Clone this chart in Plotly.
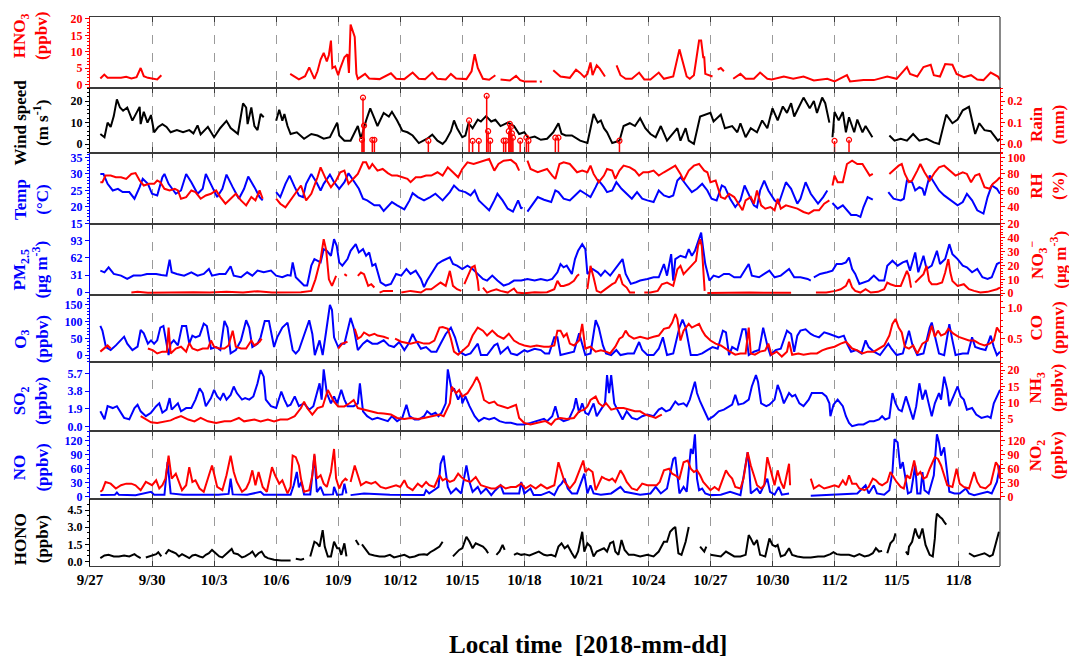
import pandas as pd
import plotly.graph_objects as go

START = pd.Timestamp("2018-09-27 00:00")
END = pd.Timestamp("2018-11-10 00:00")
tick_days = [0, 3, 6, 9, 12, 15, 18, 21, 24, 27, 30, 33, 36, 39, 42]
tick_labels = ["9/27", "9/30", "10/3", "10/6", "10/9", "10/12", "10/15", "10/18",
               "10/21", "10/24", "10/27", "10/30", "11/2", "11/5", "11/8"]

# Each series: (days since 2018-09-27 00:00 local time, value); None marks missing data
hno3 = [(0.5,1.8),(0.69,3.0),(0.85,2.0),(1.2,1.9),(1.5,2.0),(1.75,2.3),(2.0,1.8),(2.25,2.2),(2.45,5.0),(2.6,2.5),(2.8,2.0),(3.0,1.8),(3.25,1.5),(3.45,2.8),(3.5,None),
(9.68,3.2),(9.9,2.2),(10.1,1.5),(10.4,2.5),(10.6,5.2),(10.85,1.7),(11.0,4.0),(11.15,7.6),(11.3,9.6),(11.45,7.0),(11.55,9.0),(11.65,13.4),(11.72,5.0),(11.85,5.5),(12.0,2.8),(12.1,4.9),(12.3,8.3),(12.45,9.2),(12.52,3.5),(12.6,18.3),(12.8,14.5),(12.88,3.2),(12.95,1.7),(13.3,3.2),(13.5,1.8),(14.0,1.6),(14.55,3.4),(14.8,1.7),(15.2,1.6),(15.6,3.6),(15.9,1.7),(16.2,1.6),(16.55,3.6),(16.8,1.7),(17.2,1.5),(17.45,3.2),(17.7,1.8),(18.2,1.6),(18.45,4.0),(18.6,9.2),(18.75,5.0),(19.0,1.7),(19.3,1.4),(19.6,2.8),(19.65,None),(19.85,1.5),(20.3,1.2),(20.6,2.6),(20.8,1.3),(21.0,0.9),(21.6,0.9),(21.65,None),(21.75,0.8),(21.85,0.9),(21.9,None),
(22.4,4.3),(22.75,2.4),(23.2,2.0),(23.5,4.5),(23.7,3.5),(23.9,2.2),(24.05,3.2),(24.2,6.7),(24.3,2.8),(24.5,5.8),(24.65,4.8),(24.9,2.4),(24.95,None),(25.46,5.8),(25.65,2.8),(25.9,1.7),(26.2,1.7),(26.55,3.6),(26.8,1.5),(27.1,1.5),(27.5,3.6),(27.75,1.7),(28.2,2.4),(28.5,10.7),(28.85,2.4),(29.0,1.7),(29.2,2.8),(29.45,13.4),(29.55,13.4),(29.65,8.3),(29.7,8.3),(29.75,3.2),(29.9,2.8),(30.1,2.4),(30.15,None),(30.35,4.5),(30.5,5.0),(30.65,4.0),(30.7,None),
(31.1,1.7),(31.45,3.2),(31.7,1.7),(32.1,1.7),(32.4,3.6),(32.75,1.7),(32.97,1.5),(33.55,2.4),(34.0,1.7),(34.5,2.4),(35.0,1.2),(35.65,1.7),(36.0,0.9),(36.6,2.8),(36.75,0.9),(37.4,1.3),(37.9,1.3),(38.55,2.4),(39.0,1.7),(39.5,5.3),(39.65,3.2),(40.0,2.4),(40.3,5.3),(40.65,6.0),(40.8,2.8),(41.1,2.4),(41.35,6.2),(41.7,6.0),(41.9,3.2),(42.25,2.2),(42.6,2.8),(42.9,1.5),(43.2,1.3),(43.55,3.6),(43.9,2.4),(44.0,1.3)]

wind = [(0.5,4.7),(0.7,3.2),(0.85,10),(1.0,8),(1.15,13),(1.3,20.8),(1.45,17),(1.6,15.5),(1.8,17),(2.05,10.9),(2.4,17.3),(2.45,9.3),(2.6,15),(2.78,10),(2.95,13.5),(3.1,5.5),(3.3,8),(3.5,9.3),(3.7,8),(3.9,5.5),(4.2,6.5),(4.5,5.5),(4.8,6.5),(5.0,5),(5.2,8.7),(5.35,4.5),(5.7,8),(6.0,3.2),(6.3,7.5),(6.6,10.8),(6.8,7.5),(7.15,4.8),(7.4,18.9),(7.55,17),(7.62,9.3),(7.8,17),(7.95,8.4),(8.1,6.5),(8.25,14),(8.4,12.5),(8.45,None),
(9.0,10.9),(9.15,16),(9.3,10.9),(9.4,14),(9.55,8.4),(9.7,4.7),(10.0,5.5),(10.35,2.5),(10.7,4.7),(11.0,4),(11.3,2.5),(11.6,3.2),(11.95,10),(12.05,4),(12.3,1.6),(12.6,1.6),(12.95,8.4),(13.1,2.5),(13.35,11),(13.55,16.6),(13.75,12),(13.9,8.4),(14.2,14.5),(14.45,12.8),(14.6,15),(14.85,11),(15.1,6.2),(15.35,5.5),(15.6,4),(15.9,0.5),(16.3,2.5),(16.55,4.4),(16.8,1.6),(17.05,0.1),(17.2,1.6),(17.45,6),(17.6,11),(17.75,7.4),(18.0,3.2),(18.15,4),(18.3,9.7),(18.5,7.4),(18.75,11.4),(18.9,10.5),(19.15,13),(19.4,10.5),(19.6,11.3),(19.85,8.4),(20.2,10),(20.5,8.4),(20.75,4.7),(21.0,5.5),(21.2,2.8),(21.5,3.5),(21.8,2.0),(22.1,2.5),(22.4,5.5),(22.65,9.7),(22.8,4.8),(23.0,4),(23.3,4),(23.7,1.6),(24.05,0.5),(24.35,14),(24.55,10),(24.7,11),(24.85,7.4),(25.0,5.5),(25.25,0.5),(25.6,1.6),(25.8,8.4),(26.1,9.7),(26.35,8.4),(26.6,12),(26.85,7.4),(27.1,4.7),(27.35,3.2),(27.6,8.4),(27.9,1.6),(28.15,4.7),(28.4,7.4),(28.55,1.6),(28.8,7.4),(28.95,1.6),(29.2,0.1),(29.5,12.8),(29.75,13.7),(30.0,14.5),(30.15,10.5),(30.5,13.7),(30.7,7.4),(31.05,8.4),(31.3,5.5),(31.45,9.7),(31.7,3.2),(31.95,7.4),(32.25,5.5),(32.5,11),(32.75,7.4),(33.0,16.6),(33.25,11),(33.5,17.5),(33.7,14.5),(33.9,19),(34.05,12.8),(34.3,17.5),(34.5,21.6),(34.8,16.6),(35.0,20),(35.15,14.5),(35.4,21.6),(35.55,19),(35.75,10),(35.8,None),
(35.9,3.2),(36.0,14.9),(36.2,11),(36.4,14.9),(36.55,5.5),(36.7,12.5),(36.95,5.5),(37.1,11.4),(37.35,5.5),(37.5,8.4),(37.83,3.2),(37.9,None),
(38.65,4),(38.9,1.6),(39.2,2.5),(39.5,1.6),(39.8,4.7),(40.1,1.6),(40.45,2.5),(40.8,0.8),(41.05,0.1),(41.4,13.7),(41.7,9.7),(41.95,11.4),(42.2,15.7),(42.5,17.3),(42.65,11),(42.8,4.7),(43.0,9.7),(43.25,6.5),(43.55,6),(43.9,1.6),(44.0,2.5)]

rain = [(13.15,0.02),(13.2,0.216),(13.25,0.086),(13.65,0.02),(13.75,0.02),(16.36,0.016),(18.33,0.11),(18.5,0.015),(18.8,0.015),(19.18,0.224),(19.25,0.06),(19.35,0.016),(20.0,0.016),(20.1,0.016),(20.25,0.06),(20.3,0.094),(20.35,0.08),(20.4,0.05),(20.45,0.03),(20.8,0.016),(21.1,0.03),(21.2,0.016),(22.5,0.03),(22.65,0.03),(25.6,0.016),(36.0,0.015),(36.7,0.02)]

temp = [(0.5,30.0),(0.65,30.0),(0.85,27),(1.1,25),(1.35,25.5),(1.58,24.5),(1.9,24.5),(2.15,22.5),(2.4,26),(2.55,28.5),(2.8,27),(3.0,24),(3.25,23.5),(3.5,29),(3.6,30),(3.8,27),(4.15,24),(4.4,25),(4.65,30),(4.9,27.5),(5.2,24),(5.45,25.5),(5.6,30),(5.85,27),(6.15,23),(6.4,25.5),(6.6,29.8),(6.9,26),(7.2,22.5),(7.45,25.5),(7.65,29.2),(7.95,26),(8.2,23),(8.35,22),(8.4,None),
(9.0,24.5),(9.2,23),(9.45,27),(9.65,29.5),(9.9,26),(10.1,23.5),(10.3,23),(10.45,27),(10.7,30),(10.95,27.5),(11.15,25),(11.3,27),(11.6,29.8),(11.8,27.5),(12.05,25.5),(12.3,27.5),(12.5,30.2),(12.75,28),(13.0,25.5),(13.2,22.5),(13.4,22),(13.75,20.5),(14.0,20.5),(14.2,18.8),(14.45,20.5),(14.6,21.5),(14.85,20.5),(15.2,19.3),(15.45,22),(15.6,24.2),(15.85,23),(16.15,22),(16.45,23),(16.7,24),(17.05,22),(17.4,24.5),(17.6,26.5),(17.85,25),(18.15,24.5),(18.4,23.5),(18.6,25),(18.8,22),(19.05,20.5),(19.3,19),(19.55,22),(19.7,24),(19.95,22),(20.2,19.5),(20.45,18.6),(20.7,22),(20.85,19.5),(20.9,20),(20.95,None),
(21.15,18.6),(21.4,21),(21.65,23),(21.95,22.2),(22.3,21.5),(22.5,25),(22.65,24.5),(22.9,22.5),(23.2,22),(23.45,23.5),(23.7,25),(23.95,24),(24.2,23),(24.45,26),(24.6,28),(24.85,26),(25.0,24.5),(25.25,25),(25.45,27.5),(25.7,25.5),(25.95,24),(26.2,22.5),(26.45,24.5),(26.7,22.5),(26.95,22),(27.25,21.5),(27.5,25),(27.75,23.5),(28.0,23),(28.2,23.5),(28.4,28),(28.55,29),(28.85,26.5),(29.1,24.5),(29.35,25.5),(29.6,27),(29.85,25),(30.05,22.5),(30.3,22),(30.55,26.5),(30.7,26),(30.95,22.5),(31.2,20),(31.45,22),(31.65,26.5),(31.85,24),(32.1,20.5),(32.25,19.9),(32.4,25),(32.6,28),(32.8,25),(33.1,22),(33.3,21),(33.65,27.5),(33.9,25.5),(34.2,21),(34.35,22.5),(34.6,27.5),(34.85,24),(35.2,21),(35.45,23),(35.65,25),(35.7,None),
(35.9,21.2),(36.15,19.5),(36.4,20.5),(36.55,19.5),(36.8,17.6),(37.05,17.6),(37.25,17),(37.4,20),(37.6,23),(37.85,22.2),(37.9,None),
(38.6,24.5),(38.85,22.5),(39.2,22),(39.35,22.5),(39.5,28),(39.75,27.5),(39.9,25),(40.1,26),(40.25,25.5),(40.35,23.5),(40.6,29.5),(40.8,27.5),(41.05,25),(41.3,23.5),(41.6,22),(41.95,20.5),(42.2,21.5),(42.4,24),(42.65,22),(42.9,19),(43.2,18),(43.4,23),(43.6,26.5),(43.85,25.5),(44.0,24)]

rh = [(0.5,70),(0.6,70),(0.75,78),(1.0,78),(1.25,76),(1.5,76),(1.75,74),(2.0,80),(2.2,81),(2.4,72),(2.6,66),(2.85,68),(3.1,68),(3.25,72),(3.4,70),(3.6,62),(3.85,60),(4.1,62),(4.25,60),(4.4,50),(4.65,52),(4.9,60),(5.1,58),(5.35,50),(5.6,54),(5.85,56),(6.1,60),(6.3,52),(6.55,44),(6.8,50),(7.05,56),(7.3,48),(7.55,42),(7.8,52),(8.0,48),(8.2,60),(8.35,50),(8.4,None),
(9.0,50),(9.2,44),(9.45,39.5),(9.7,48),(9.95,56),(10.2,66),(10.45,48),(10.7,56),(11.0,76),(11.15,88),(11.4,74),(11.65,64),(11.9,72),(12.1,82),(12.3,84),(12.5,68),(12.8,76),(12.95,80),(13.2,94),(13.35,94),(13.5,86),(13.65,92),(13.9,84),(14.15,86),(14.4,81),(14.6,78),(14.85,78),(15.1,76),(15.35,74),(15.5,70),(15.75,76),(16.0,76),(16.25,78),(16.5,78),(16.8,82),(17.05,78),(17.3,88),(17.55,82),(17.8,76),(18.0,86),(18.25,94),(18.55,92),(18.8,94),(19.05,96),(19.3,98),(19.55,84),(19.75,92),(20.0,96),(20.35,97),(20.6,92),(20.75,84),(20.8,None),
(21.15,96),(21.3,86),(21.65,82),(21.95,85),(22.1,86),(22.35,78),(22.5,74),(22.7,92),(22.9,94),(23.2,92),(23.55,82),(23.8,84),(24.05,82),(24.2,90),(24.35,80),(24.6,70),(24.85,78),(25.0,86),(25.25,84),(25.4,74),(25.6,84),(25.8,90),(26.1,88),(26.35,84),(26.55,78),(26.75,82),(27.0,82),(27.25,84),(27.5,78),(27.75,82),(28.05,86),(28.3,90),(28.55,80),(28.7,72),(28.95,84),(29.2,90),(29.45,92),(29.7,84),(29.85,82),(30.0,70),(30.25,72),(30.5,52),(30.7,50),(30.9,56),(31.15,52),(31.4,42),(31.55,36),(31.7,48),(31.95,52),(32.1,44),(32.25,60),(32.45,42),(32.65,38),(32.9,40),(33.1,36),(33.25,50),(33.4,38),(33.65,42),(33.9,40),(34.2,38),(34.5,34),(34.75,32),(35.0,36),(35.25,36),(35.5,44),(35.75,48),(35.8,None),
(35.9,66),(36.0,78),(36.15,70),(36.4,70),(36.6,92),(36.85,96),(37.1,92),(37.35,92),(37.5,86),(37.7,78),(37.85,80),(37.9,None),
(38.65,80),(38.9,86),(39.1,90),(39.25,92),(39.4,80),(39.6,70),(39.75,72),(40.0,84),(40.15,92),(40.35,82),(40.6,72),(40.85,82),(41.05,88),(41.3,90),(41.6,84),(41.85,78),(42.2,82),(42.4,80),(42.6,70),(42.8,78),(43.0,80),(43.25,64),(43.5,62),(43.65,68),(43.85,72),(44.0,76)]

pm25 = [(0.5,39),(0.7,36),(0.9,45),(1.15,33),(1.5,30),(1.8,24),(2.1,30),(2.45,30),(2.75,33),(3.2,33),(3.45,31),(3.7,30),(3.85,59),(3.95,36),(4.2,33),(4.55,30),(4.9,36),(5.2,30),(5.5,33),(5.75,42),(5.9,30),(6.25,33),(6.55,33),(6.8,47),(6.95,30),(7.3,27),(7.6,36),(7.85,30),(8.1,39),(8.4,36),(8.75,39),(9.0,30),(9.3,27),(9.55,31),(9.7,30),(9.8,54),(9.95,27),(10.1,21),(10.35,12),(10.5,12),(10.7,48),(10.85,60),(11.0,57),(11.15,54),(11.3,78),(11.45,75),(11.65,66),(11.8,96),(11.93,84),(12.05,54),(12.2,48),(12.45,60),(12.6,75),(12.85,87),(13.0,72),(13.2,78),(13.35,66),(13.5,72),(13.65,48),(13.8,51),(14.05,18),(14.3,12),(14.55,15),(14.8,33),(15.05,30),(15.3,42),(15.5,33),(15.75,39),(16.0,24),(16.15,9),(16.3,21),(16.55,36),(16.8,51),(17.05,57),(17.4,63),(17.55,51),(17.75,48),(18.0,42),(18.25,48),(18.5,42),(18.75,33),(19.0,24),(19.2,21),(19.45,30),(19.7,21),(20.0,12),(20.25,15),(20.5,21),(20.85,21),(21.15,24),(21.5,21),(21.8,24),(22.1,21),(22.35,24),(22.6,36),(22.75,51),(22.9,45),(23.05,48),(23.3,33),(23.45,60),(23.6,75),(23.8,87),(23.95,78),(24.05,33),(24.3,42),(24.55,36),(24.7,30),(24.9,39),(25.15,30),(25.4,42),(25.75,60),(25.9,33),(26.15,15),(26.4,18),(26.6,21),(26.95,24),(27.25,27),(27.5,27),(27.75,51),(27.9,30),(28.1,69),(28.2,21),(28.3,60),(28.55,66),(28.8,63),(28.95,78),(29.1,66),(29.25,75),(29.45,99),(29.55,108),(29.65,78),(29.75,51),(29.95,21),(30.15,30),(30.4,27),(30.65,33),(30.9,33),(31.15,27),(31.45,27),(31.85,51),(32.0,30),(32.35,27),(32.6,33),(32.85,39),(33.1,27),(33.4,30),(33.8,42),(34.05,27),(34.35,27),(34.7,24),(34.85,21),(34.9,None),
(35.0,27),(35.3,33),(35.65,36),(35.9,39),(36.1,51),(36.35,51),(36.55,54),(36.7,63),(36.85,42),(37.0,33),(37.2,15),(37.45,18),(37.65,21),(37.9,30),(38.15,21),(38.4,21),(38.55,48),(38.8,57),(39.05,48),(39.3,54),(39.5,57),(39.65,39),(39.9,72),(40.05,36),(40.3,66),(40.45,42),(40.7,48),(40.95,75),(41.1,51),(41.35,60),(41.55,87),(41.7,69),(41.95,60),(42.2,48),(42.4,45),(42.65,36),(42.9,42),(43.15,27),(43.4,24),(43.6,27),(43.85,51),(44.0,54)]

no3 = [(2.0,0.5),(2.3,1.0),(2.8,0.3),(3.5,0.5),(4.2,0.3),(5.0,0.8),(5.8,0.5),(6.6,1.0),(7.4,0.5),(8.1,1.5),(8.8,0.5),(9.5,0.5),(10.2,0.8),(10.7,1.7),(10.9,10),(11.15,24.5),(11.3,38.9),(11.42,31),(11.55,10),(11.7,5.3),(11.9,12.5),(11.95,None),(12.3,13.7),(12.42,12.5),(12.45,None),(12.95,12.5),(13.1,14.9),(13.25,13.7),(13.45,5.3),(13.6,6.5),(13.75,4.1),(13.8,None),(14.0,0.5),(14.2,1.7),(14.4,1.7),(14.65,1.7),(14.7,None),
(15.05,0.5),(15.5,1.7),(16.0,0.5),(16.25,2.9),(16.5,2.9),(16.75,5.3),(16.95,7.7),(17.2,5.3),(17.4,16.1),(17.55,5.3),(17.75,2.9),(17.95,1.7),(18.0,None),(18.1,6.5),(18.25,11.3),(18.45,18.5),(18.6,19.7),(18.75,8.9),(18.8,1.7),(18.9,None),(19.0,4.1),(19.2,0.5),(19.4,1.7),(19.65,2.9),(19.85,1.7),(20.2,0.5),(20.5,3.4),(20.65,0.5),(21.0,0.0),(21.5,0.8),(21.8,0.5),(22.1,0.8),(22.45,2.9),(22.6,8.9),(22.75,5.3),(22.9,5.3),(23.15,6.5),(23.4,8.9),(23.55,12.5),(23.65,13.7),(23.7,None),
(24.05,2.9),(24.2,19.7),(24.35,11.3),(24.5,1.7),(24.7,0.5),(25.0,4.1),(25.25,6.5),(25.4,7.7),(25.6,13.7),(25.75,6.5),(25.95,4.1),(26.1,0.5),(26.35,0.5),(26.4,None),(26.8,0.5),(27.1,0.5),(27.45,1.7),(27.65,6.5),(27.9,7.7),(28.05,6.5),(28.2,5.3),(28.4,17.3),(28.55,19.7),(28.7,13.7),(28.85,16.1),(29.1,19.7),(29.3,23.3),(29.4,34),(29.5,38.9),(29.58,34),(29.68,5.3),(29.72,1.7),(29.75,None),
(29.85,0.2),(30.5,0.4),(31.2,0.2),(31.9,0.5),(32.6,0.3),(33.3,0.4),(33.9,0.3),(33.95,None),(35.1,0.5),(35.6,0.5),(36.05,1.7),(36.3,2.9),(36.55,5.3),(36.7,10.1),(36.85,4.1),(37.0,1.7),(37.25,0.5),(37.5,2.9),(37.75,0.5),(38.1,1.0),(38.4,2.9),(38.55,7.7),(38.7,6.5),(38.95,5.3),(39.2,5.3),(39.35,10.1),(39.5,16.1),(39.6,12.5),(39.7,4.1),(39.75,None),(39.9,7.7),(40.15,11.3),(40.3,13.7),(40.45,19.7),(40.57,8.9),(40.7,6.5),(40.95,6.5),(41.2,7.7),(41.35,14.9),(41.5,24.5),(41.6,14.9),(41.7,8.9),(41.95,5.3),(42.25,6.5),(42.5,2.9),(42.75,1.7),(43.05,0.5),(43.4,1.0),(43.6,1.7),(43.85,2.9),(44.0,4.1)]

o3 = [(0.5,87),(0.6,73),(0.77,24),(1.0,15),(1.25,29),(1.5,44),(1.65,55),(1.8,34),(2.05,15),(2.3,25),(2.45,75),(2.6,65),(2.8,34),(2.95,44),(3.1,34),(3.25,44),(3.4,82),(3.55,87),(3.65,53),(3.8,0),(3.9,34),(4.05,44),(4.25,29),(4.45,87),(4.65,87),(4.8,34),(4.95,58),(5.1,53),(5.3,58),(5.5,94),(5.65,87),(5.85,19),(6.1,24),(6.3,15),(6.5,102),(6.65,82),(6.8,5),(7.05,15),(7.3,44),(7.55,104),(7.7,82),(7.85,24),(8.1,34),(8.25,53),(8.45,102),(8.65,102),(8.9,24),(9.05,53),(9.3,82),(9.55,97),(9.8,15),(9.95,5),(10.1,15),(10.35,63),(10.6,104),(10.75,63),(10.87,0),(11.1,44),(11.25,0),(11.4,63),(11.6,150),(11.7,135),(11.8,53),(12.0,24),(12.15,34),(12.3,34),(12.45,73),(12.6,111),(12.75,82),(12.95,15),(13.2,34),(13.4,44),(13.65,34),(13.9,34),(14.2,44),(14.45,29),(14.7,24),(14.95,39),(15.2,15),(15.4,34),(15.6,63),(15.75,44),(16.0,19),(16.25,24),(16.5,10),(16.75,10),(16.95,34),(17.2,63),(17.45,82),(17.65,53),(17.85,10),(18.15,0),(18.4,5),(18.75,34),(18.9,0),(19.2,0),(19.55,29),(19.7,34),(19.85,5),(20.2,24),(20.35,5),(20.65,0),(21.0,15),(21.15,10),(21.5,19),(21.8,15),(22.0,5),(22.2,5),(22.45,53),(22.6,53),(22.75,0),(23.1,5),(23.4,10),(23.65,65),(23.8,34),(23.95,0),(24.2,5),(24.45,104),(24.6,82),(24.8,29),(24.95,5),(25.2,0),(25.45,15),(25.65,0),(26.0,5),(26.3,5),(26.55,39),(26.7,15),(26.95,0),(27.25,0),(27.5,19),(27.7,53),(27.9,0),(28.2,5),(28.5,82),(28.65,106),(28.8,82),(29.05,0),(29.35,0),(29.6,5),(29.85,15),(30.1,24),(30.35,19),(30.6,73),(30.75,68),(30.9,0),(31.05,24),(31.3,15),(31.55,77),(31.7,77),(31.85,0),(32.1,10),(32.35,15),(32.55,82),(32.75,29),(32.9,0),(33.15,15),(33.4,19),(33.7,73),(33.9,63),(34.05,10),(34.2,58),(34.35,73),(34.6,77),(34.85,63),(35.0,58),(35.25,53),(35.5,68),(35.75,63),(35.97,58),(36.2,53),(36.45,58),(36.6,34),(36.8,10),(37.05,15),(37.3,5),(37.5,44),(37.65,24),(37.9,10),(38.2,0),(38.6,34),(38.75,19),(39.0,0),(39.3,5),(39.6,73),(39.75,34),(40.0,0),(40.3,5),(40.6,82),(40.7,97),(40.85,53),(41.05,5),(41.3,0),(41.55,92),(41.7,44),(41.85,0),(42.2,5),(42.45,5),(42.65,53),(42.8,24),(43.05,19),(43.3,15),(43.55,58),(43.7,24),(43.85,0),(44.0,10)]

co = [(0.5,0.29),(0.7,0.34),(0.85,0.39),(1.0,0.34),(1.05,None),(2.8,0.34),(3.05,0.31),(3.25,0.26),(3.5,0.29),(3.72,0.29),(3.8,0.68),(3.9,0.26),(4.15,0.34),(4.4,0.37),(4.65,0.29),(4.8,0.43),(4.95,0.34),(5.2,0.31),(5.45,0.34),(5.7,0.34),(5.85,0.47),(6.0,0.37),(6.25,0.34),(6.5,0.34),(6.7,0.39),(6.9,0.63),(7.05,0.37),(7.3,0.34),(7.55,0.34),(7.8,0.47),(7.95,0.39),(8.2,0.45),(8.3,0.50),(8.35,None),
(12.0,0.34),(12.2,0.42),(12.45,0.45),(12.5,None),(12.8,0.66),(12.95,0.50),(13.1,0.53),(13.25,0.6),(13.5,0.55),(13.75,0.58),(13.9,0.55),(14.2,0.53),(14.45,0.5),(14.5,None),(14.75,0.5),(15.05,0.45),(15.5,0.42),(15.85,0.45),(16.15,0.42),(16.4,0.42),(16.65,0.47),(16.9,0.68),(17.05,0.69),(17.3,0.66),(17.45,0.5),(17.6,0.29),(17.8,0.24),(17.95,0.29),(18.3,0.39),(18.5,0.55),(18.75,0.68),(19.0,0.63),(19.2,0.55),(19.45,0.63),(19.7,0.55),(20.0,0.5),(20.25,0.58),(20.5,0.47),(20.75,0.42),(21.0,0.39),(21.3,0.37),(21.6,0.39),(21.95,0.37),(22.2,0.37),(22.45,0.39),(22.6,0.63),(22.75,0.63),(22.9,0.53),(23.05,0.58),(23.2,0.42),(23.4,0.39),(23.65,0.47),(23.8,0.74),(23.95,0.34),(24.2,0.37),(24.45,0.29),(24.7,0.31),(24.95,0.29),(25.15,0.26),(25.4,0.37),(25.6,0.50),(25.75,0.53),(25.9,0.63),(26.05,0.55),(26.3,0.50),(26.6,0.53),(26.95,0.50),(27.25,0.53),(27.5,0.55),(27.75,0.66),(28.0,0.68),(28.15,0.76),(28.3,0.9),(28.4,0.82),(28.55,0.47),(28.7,0.63),(28.95,0.74),(29.1,0.68),(29.25,0.71),(29.45,0.74),(29.6,0.63),(29.75,0.55),(30.0,0.47),(30.25,0.42),(30.5,0.39),(30.7,0.34),(30.95,0.29),(31.2,0.24),(31.45,0.26),(31.7,0.26),(31.85,0.68),(31.95,0.26),(32.15,0.24),(32.4,0.29),(32.65,0.31),(32.8,0.42),(32.95,0.24),(33.2,0.29),(33.45,0.21),(33.7,0.29),(33.8,0.45),(33.95,0.24),(34.25,0.26),(34.5,0.24),(34.85,0.26),(35.15,0.26),(35.4,0.31),(35.65,0.34),(36.0,0.37),(36.3,0.42),(36.55,0.45),(36.85,0.34),(37.1,0.31),(37.35,0.26),(37.6,0.29),(37.9,0.29),(38.15,0.34),(38.4,0.39),(38.65,0.55),(38.8,0.74),(38.95,0.82),(39.1,0.68),(39.25,0.6),(39.4,0.37),(39.6,0.34),(39.8,0.39),(40.0,0.26),(40.25,0.42),(40.5,0.47),(40.7,0.71),(40.85,0.53),(41.0,0.63),(41.15,0.55),(41.35,0.58),(41.5,0.66),(41.75,0.58),(42.0,0.53),(42.25,0.5),(42.5,0.47),(42.75,0.47),(43.0,0.42),(43.25,0.39),(43.5,0.42),(43.7,0.47),(43.85,0.68),(44.0,0.6)]

so2 = [(0.5,1.65),(0.7,0.8),(0.85,2.2),(1.1,2.0),(1.3,2.2),(1.45,1.65),(1.65,0.95),(1.9,0.8),(2.15,2.0),(2.3,2.35),(2.45,1.65),(2.7,1.13),(2.95,1.5),(3.2,2.2),(3.35,2.5),(3.5,1.5),(3.7,1.83),(3.85,3.06),(3.95,1.83),(4.25,2.5),(4.4,1.65),(4.65,2.0),(4.9,2.0),(5.1,2.9),(5.3,4.1),(5.45,3.6),(5.6,2.2),(5.85,3.06),(6.0,3.94),(6.15,3.24),(6.3,2.9),(6.45,3.6),(6.6,2.9),(6.8,3.4),(6.95,4.3),(7.1,3.6),(7.35,2.9),(7.5,3.06),(7.7,2.9),(7.9,3.24),(8.1,4.64),(8.25,6.05),(8.4,5.35),(8.5,2.9),(8.75,2.2),(9.0,2.0),(9.25,3.76),(9.4,2.9),(9.55,2.2),(9.7,2.35),(9.9,3.24),(10.1,2.2),(10.35,2.5),(10.6,1.83),(10.8,2.2),(11.1,4.64),(11.2,2.9),(11.3,6.12),(11.45,3.6),(11.65,2.5),(11.8,3.24),(11.95,2.5),(12.15,3.94),(12.3,2.9),(12.45,2.2),(12.75,2.2),(12.95,2.5),(13.05,4.64),(13.2,1.65),(13.4,1.13),(13.65,0.78),(13.9,0.95),(14.15,0.78),(14.4,0.6),(14.6,1.13),(14.85,0.6),(15.1,0.95),(15.3,2.36),(15.45,1.13),(15.7,0.78),(15.9,0.78),(16.15,1.13),(16.3,1.65),(16.5,1.3),(16.7,1.5),(16.85,1.13),(17.0,1.5),(17.2,2.5),(17.3,6.12),(17.4,5.0),(17.5,3.76),(17.6,4.1),(17.8,2.9),(17.95,3.6),(18.0,2.5),(18.15,3.24),(18.35,2.2),(18.6,1.13),(18.8,0.6),(19.05,0.95),(19.3,0.78),(19.55,0.95),(19.8,0.6),(20.1,0.42),(20.35,0.42),(20.65,0.25),(21.0,0.25),(21.3,0.42),(21.6,0.6),(21.95,0.85),(22.1,0.6),(22.35,1.13),(22.5,2.2),(22.65,0.95),(22.9,0.6),(23.15,0.78),(23.4,2.0),(23.5,3.06),(23.65,1.5),(23.8,2.5),(23.95,1.5),(24.1,1.3),(24.35,2.5),(24.5,1.13),(24.7,1.83),(24.9,2.5),(25.0,5.52),(25.1,3.6),(25.2,5.52),(25.35,2.5),(25.5,1.83),(25.75,0.78),(25.95,1.65),(26.2,0.95),(26.45,0.78),(26.7,1.13),(26.95,1.3),(27.25,1.13),(27.5,1.83),(27.65,2.0),(27.85,1.65),(28.05,1.83),(28.3,2.7),(28.45,2.36),(28.7,2.5),(28.85,2.2),(29.0,2.9),(29.25,4.8),(29.35,3.6),(29.5,2.7),(29.75,1.5),(29.9,0.78),(30.15,1.13),(30.4,1.65),(30.65,1.83),(30.8,2.0),(31.05,2.36),(31.2,3.4),(31.35,2.36),(31.6,2.5),(31.85,2.9),(32.0,4.3),(32.2,5.52),(32.3,4.8),(32.45,2.5),(32.7,2.2),(32.85,2.36),(33.1,2.9),(33.25,4.47),(33.4,3.6),(33.55,2.5),(33.8,3.6),(33.95,3.24),(34.1,3.4),(34.3,2.5),(34.5,2.2),(34.75,2.9),(34.9,3.6),(35.15,3.6),(35.4,3.6),(35.6,3.24),(35.75,2.5),(35.8,1.13),(35.95,2.36),(36.15,2.9),(36.3,2.5),(36.4,2.2),(36.55,1.13),(36.7,0.42),(36.85,0.07),(37.15,0.25),(37.4,0.25),(37.7,0.6),(37.9,0.6),(38.15,0.78),(38.3,1.13),(38.45,0.78),(38.65,0.95),(38.8,3.6),(38.95,2.5),(39.1,1.83),(39.25,1.65),(39.45,3.24),(39.6,2.2),(39.8,0.78),(39.95,2.2),(40.1,4.64),(40.25,2.9),(40.4,3.94),(40.55,2.5),(40.7,1.13),(40.85,2.5),(41.05,3.6),(41.15,2.9),(41.3,5.35),(41.45,3.94),(41.55,2.2),(41.75,3.24),(41.95,4.3),(42.1,3.24),(42.25,2.9),(42.4,1.83),(42.65,2.0),(42.85,1.3),(43.1,0.95),(43.4,1.13),(43.55,0.95),(43.7,2.5),(43.85,3.24),(44.0,3.94)]

nh3 = [(2.45,5.8),(2.7,4.75),(2.95,3.9),(3.25,3.7),(3.6,4.2),(3.9,4.5),(4.15,5.25),(4.4,5.8),(4.75,4.75),(5.05,4.2),(5.35,5.25),(5.7,4.2),(6.1,3.7),(6.5,4.2),(6.8,4.2),(7.2,5.25),(7.45,4.2),(7.95,4.75),(8.25,4.2),(8.6,4.75),(8.9,4.2),(9.2,4.75),(9.55,4.75),(9.9,5.8),(10.2,8.3),(10.35,10.3),(10.5,8.3),(10.75,6.3),(11.0,8.3),(11.25,8.8),(11.5,13.9),(11.65,11.85),(11.8,10.3),(12.0,8.8),(12.3,8.8),(12.55,9.8),(12.75,10.8),(12.95,8.3),(13.25,7.8),(13.65,7.3),(13.9,6.8),(14.2,6.6),(14.55,6.3),(14.85,5.25),(15.2,4.9),(15.5,5.25),(15.85,4.9),(16.15,5.25),(16.5,5.8),(16.9,6.3),(17.1,5.8),(17.4,9.8),(17.5,14.9),(17.7,12.9),(17.85,13.9),(18.0,11.85),(18.25,12.9),(18.5,15.4),(18.7,17.9),(18.85,15.9),(19.05,10.8),(19.3,9.8),(19.55,10.3),(19.7,9.3),(19.95,8.8),(20.2,8.3),(20.4,8.8),(20.6,9.3),(20.75,5.25),(21.0,3.7),(21.3,3.2),(21.6,3.7),(21.95,4.2),(22.05,4.2),(22.3,3.2),(22.5,4.75),(22.75,5.25),(23.05,4.9),(23.4,5.25),(23.65,7.3),(23.9,7.8),(24.05,8.8),(24.2,10.8),(24.45,11.85),(24.6,9.8),(24.8,8.8),(24.95,9.8),(25.2,7.8),(25.5,8.3),(25.8,8.3),(26.05,7.8),(26.35,7.3),(26.6,7.3),(26.85,6.3),(27.1,5.8),(27.35,5.25),(27.5,5.8),(27.65,6.3)]

no = [(0.5,3.4),(1.2,4),(1.3,9),(1.4,4),(2.2,3),(2.95,10.5),(3.1,4),(3.6,4),(3.75,74),(3.9,7),(4.5,4),(5.5,4),(6.2,4),(6.7,6),(6.8,39),(6.9,5),(7.6,4),(8.25,10.5),(8.4,4),(9.0,4),(9.7,4),(9.85,24.6),(10.0,53),(10.1,20),(10.22,31.7),(10.35,5),(10.65,5),(10.85,88),(10.97,10),(11.15,21),(11.3,4),(11.75,5),(11.8,21),(11.95,4),(12.2,5),(12.3,28),(12.4,7),(12.45,None),
(12.6,3.4),(13.25,7),(14.5,4),(15.5,4),(16.15,3.4),(16.25,14),(16.4,7),(16.75,17.6),(16.85,21),(16.95,70.6),(17.1,88),(17.2,53),(17.3,21),(17.45,7),(17.7,17.6),(17.95,7),(18.2,67),(18.35,31.7),(18.5,10.5),(18.75,21),(18.9,7),(19.15,17.6),(19.4,3.4),(19.6,14),(19.85,24.6),(20.0,7),(20.35,7),(20.75,7),(20.85,31.7),(21.0,7),(21.3,17.6),(21.45,3.4),(21.8,3.4),(22.2,10.5),(22.45,3.4),(22.65,21),(22.8,28),(22.95,38.8),(23.1,17.6),(23.3,7),(23.55,7),(23.8,38.8),(23.9,49.4),(24.05,7),(24.2,24.6),(24.35,7),(24.7,4.4),(25.2,7),(25.65,21),(25.85,10.5),(26.3,7),(26.6,4.4),(27.1,7),(27.35,21),(27.6,7),(27.9,17.6),(28.1,60),(28.2,81),(28.3,84.7),(28.38,56.5),(28.5,7),(28.7,21),(28.85,10.5),(29.05,102.4),(29.15,91.8),(29.25,134),(29.35,38.8),(29.45,14),(29.6,17.6),(29.75,7),(30.0,3.4),(30.5,4.4),(30.95,10.5),(31.45,3.4),(31.8,95.3),(31.88,60),(31.95,7),(32.25,17.6),(32.4,7),(32.75,38.8),(32.88,10.5),(33.1,4.4),(33.3,21),(33.45,4.4),(33.8,7),(33.85,None),
(34.85,2),(35.5,3.4),(36.3,4.4),(37.1,7),(37.5,24.6),(37.65,7),(37.9,24.6),(38.05,7),(38.4,4.4),(38.65,14),(38.8,53),(38.9,123.6),(39.05,116.5),(39.18,60),(39.3,74),(39.4,46),(39.55,7),(39.7,10.5),(39.9,67),(40.0,7),(40.15,7),(40.25,53),(40.35,14),(40.55,7),(40.8,46),(40.95,134),(41.05,116.5),(41.15,88),(41.3,106),(41.42,60),(41.55,10.5),(41.8,7),(42.05,7),(42.35,17.6),(42.5,7),(42.75,3.4),(43.05,7),(43.4,10.5),(43.6,7),(43.85,31.7),(44.0,67)]

no2 = [(0.5,10.5),(0.6,14),(0.75,31.7),(1.0,28),(1.25,17.6),(1.5,24.6),(1.75,28),(2.0,28),(2.2,24.6),(2.45,14),(2.7,31.7),(2.85,28),(3.0,24.6),(3.2,35.2),(3.35,17.6),(3.5,24.6),(3.65,38.8),(3.8,88),(3.95,38.8),(4.15,49.4),(4.3,31.7),(4.45,14),(4.65,24.6),(4.8,63.5),(4.95,31.7),(5.1,35),(5.3,17.6),(5.5,10.5),(5.75,46),(5.9,67),(6.0,49.4),(6.15,21),(6.4,14),(6.6,46),(6.8,88),(6.95,53),(7.1,31.7),(7.35,10.5),(7.55,17.6),(7.7,31.7),(7.85,56.5),(8.0,24.6),(8.15,53),(8.35,21),(8.55,10.5),(8.8,63.5),(8.95,46),(9.15,28),(9.3,35),(9.55,7),(9.7,21),(9.8,88),(9.95,84.7),(10.1,67),(10.2,38.8),(10.35,10.5),(10.6,14),(10.75,46),(10.85,91.8),(10.97,38.8),(11.15,46),(11.3,28),(11.45,21),(11.65,53),(11.8,102.4),(11.9,38.8),(12.05,17.6),(12.2,31.7),(12.35,38.8),(12.45,35),(12.5,None),
(12.6,31.7),(12.8,67),(12.95,46),(13.1,24.6),(13.35,31.7),(13.6,28),(13.8,31.7),(14.05,21),(14.3,17.6),(14.55,21),(14.8,24.6),(15.0,21),(15.2,35.2),(15.35,21),(15.6,14),(15.85,28),(16.05,21),(16.25,31.7),(16.4,24.6),(16.65,21),(16.9,46),(17.05,35.2),(17.2,38.8),(17.4,31.7),(17.6,35.2),(17.8,49.4),(17.95,42.3),(18.15,35.2),(18.4,31.7),(18.65,42.3),(18.9,24.6),(19.15,21),(19.4,17.6),(19.6,17.6),(19.85,24.6),(20.1,17.6),(20.35,21),(20.6,21),(20.85,28),(21.05,17.6),(21.3,24.6),(21.55,17.6),(21.8,26),(22.1,17.6),(22.45,24.6),(22.65,74),(22.8,53),(22.95,31.7),(23.2,17.6),(23.45,31.7),(23.7,60),(23.85,77.7),(23.95,53),(24.1,60),(24.3,53),(24.45,14),(24.6,28),(24.75,42.3),(24.9,38.8),(25.1,35.2),(25.25,38.8),(25.4,31.7),(25.65,56.5),(25.8,46),(25.95,31.7),(26.2,17.6),(26.45,14),(26.7,28),(26.95,24.6),(27.2,24.6),(27.4,24.6),(27.55,31.7),(27.75,56.5),(28.0,60),(28.15,49.4),(28.3,46),(28.5,38.8),(28.7,74),(28.9,77.7),(29.05,60),(29.2,53),(29.35,56.5),(29.5,46),(29.65,31.7),(29.85,21),(30.0,14),(30.2,21),(30.4,14),(30.75,56.5),(30.9,46),(31.05,38.8),(31.2,21),(31.45,17.6),(31.6,38.8),(31.8,95.3),(31.95,67),(32.1,46),(32.25,24.6),(32.45,17.6),(32.6,24.6),(32.75,84.7),(32.9,60),(33.1,24.6),(33.25,56.5),(33.4,31.7),(33.55,17.6),(33.7,46),(33.8,70.6),(33.85,24.6),(33.9,None),
(34.85,38.8),(35.0,17.6),(35.25,24.6),(35.5,17.6),(35.75,21),(36.0,24.6),(36.2,21),(36.4,35.2),(36.55,24.6),(36.7,46),(36.85,28),(37.05,28),(37.2,17.6),(37.45,14),(37.65,21),(37.85,38.8),(38.0,35.2),(38.15,28),(38.3,24.6),(38.55,31.7),(38.7,53),(38.85,42.3),(39.0,31.7),(39.2,21),(39.35,17.6),(39.5,46),(39.65,38.8),(39.85,77.7),(40.0,46),(40.15,53),(40.3,38.8),(40.45,42.3),(40.6,60),(40.85,84.7),(41.0,81),(41.15,67),(41.3,46),(41.45,24.6),(41.7,21),(41.9,60),(42.05,28),(42.25,21),(42.5,17.6),(42.75,53),(42.9,31.7),(43.05,21),(43.3,17.6),(43.55,28),(43.8,74),(43.9,67),(44.0,38.8)]

hono = [(0.5,0.29),(0.7,0.52),(0.9,0.58),(1.15,0.44),(1.4,0.44),(1.65,0.52),(1.9,0.44),(2.15,0.64),(2.3,0.44),(2.45,0.29),(2.5,None),(2.7,0.35),(2.85,0.44),(3.0,0.58),(3.2,0.64),(3.3,0.81),(3.45,0.44),(3.5,None),(3.65,0.64),(3.8,1.01),(3.95,0.87),(4.15,0.72),(4.3,0.44),(4.45,0.64),(4.65,0.44),(4.8,0.29),(4.95,0.52),(5.1,0.58),(5.3,0.44),(5.45,0.35),(5.6,0.58),(5.75,0.72),(5.9,1.01),(6.0,0.87),(6.25,0.44),(6.4,0.35),(6.55,0.58),(6.75,0.87),(6.85,1.1),(6.95,0.72),(7.15,0.64),(7.35,0.35),(7.5,0.44),(7.75,0.72),(7.85,0.87),(8.0,0.44),(8.15,0.72),(8.3,0.87),(8.45,0.44),(8.6,0.29),(8.9,0.15),(9.25,0.09),(9.7,0.09),(9.75,None),(9.95,0.23),(10.2,0.15),(10.35,0.23),(10.4,None),
(10.65,0.44),(10.85,1.73),(10.97,1.6),(11.1,1.3),(11.25,2.74),(11.35,1.3),(11.5,0.44),(11.65,0.44),(11.8,1.73),(11.95,1.16),(12.05,1.16),(12.15,0.58),(12.3,1.59),(12.4,0.44),(12.45,None),(12.85,1.88),(13.0,1.45),(13.05,None),(13.15,1.5),(13.35,1.01),(13.5,0.64),(13.75,0.52),(14.0,0.44),(14.25,0.44),(14.5,0.58),(14.7,0.35),(14.95,0.44),(15.2,0.58),(15.45,0.35),(15.7,0.44),(15.9,0.58),(16.15,0.64),(16.3,0.58),(16.45,0.81),(16.65,1.01),(16.8,1.16),(16.9,1.3),(17.05,1.73),(17.1,None),(17.55,0.44),(17.7,0.72),(17.85,1.01),(18.0,1.16),(18.2,2.17),(18.35,1.73),(18.5,1.16),(18.65,1.59),(18.8,1.45),(19.0,1.3),(19.15,1.01),(19.25,0.72),(19.3,None),(19.65,0.58),(19.8,0.87),(19.95,1.45),(20.05,1.01),(20.1,None),
(20.5,0.58),(20.65,0.72),(20.85,0.58),(21.0,0.64),(21.25,0.52),(21.5,0.72),(21.7,0.87),(21.95,0.58),(22.1,0.52),(22.3,0.58),(22.5,0.44),(22.65,1.3),(22.8,1.59),(22.95,1.16),(23.1,1.39),(23.3,0.72),(23.45,0.29),(23.6,0.87),(23.8,2.6),(23.9,0.87),(24.05,1.59),(24.2,1.3),(24.35,0.44),(24.5,0.87),(24.65,1.01),(24.85,1.16),(25.0,0.87),(25.15,1.59),(25.3,1.73),(25.4,0.87),(25.55,0.58),(25.7,1.88),(25.85,1.01),(26.05,0.58),(26.3,0.58),(26.6,0.44),(26.95,0.58),(27.25,0.44),(27.5,0.87),(27.75,1.73),(27.9,1.73),(28.05,2.6),(28.2,2.89),(28.3,3.03),(28.45,0.72),(28.6,0.58),(28.8,1.73),(28.95,3.03),(29.0,None),(29.5,1.3),(29.7,0.87),(29.8,1.3),(29.85,None),
(30.0,0.58),(30.25,0.52),(30.5,0.44),(30.75,0.87),(30.9,0.72),(31.15,0.44),(31.45,0.44),(31.7,0.58),(31.85,2.31),(31.95,2.02),(32.1,1.45),(32.25,1.88),(32.4,0.58),(32.65,0.44),(32.85,2.02),(33.0,1.45),(33.15,1.3),(33.25,1.45),(33.4,0.44),(33.6,0.58),(33.8,1.16),(33.95,0.58),(34.2,0.44),(34.5,0.35),(34.85,0.35),(35.2,0.44),(35.5,0.44),(35.8,0.64),(35.95,0.81),(36.1,0.64),(36.3,0.58),(36.5,0.58),(36.7,0.58),(36.95,0.44),(37.2,0.64),(37.45,0.44),(37.65,0.52),(37.85,0.72),(38.0,1.16),(38.15,0.87),(38.3,0.93),(38.35,None),(38.55,0.72),(38.7,1.59),(38.85,1.88),(38.95,2.46),(39.0,None),
(39.45,0.87),(39.55,0.58),(39.6,1.3),(39.75,1.73),(39.9,2.89),(40.0,2.31),(40.1,2.02),(40.25,2.89),(40.4,1.45),(40.6,0.58),(40.75,0.44),(40.85,2.02),(40.9,3.47),(40.95,4.19),(41.1,3.9),(41.2,3.75),(41.3,3.47),(41.4,3.24),(41.45,None),(42.5,0.72),(42.75,0.44),(43.0,0.58),(43.25,0.72),(43.5,0.44),(43.65,0.58),(43.8,1.59),(43.95,2.6)]

# ---------------------------------------------------------------- styling
FONT = "Liberation Serif"
RED, BLUE, BLACK, FRAME = "#ff0000", "#0000ff", "#000000", "#3a3a3a"
W, H = 1069, 660
ML, MR, MT, MB = 90, 69, 14, 94
PH = H - MT - MB
PW = W - ML - MR
edges_px = [14, 85.5, 150.5, 222, 294, 361, 430, 499, 566]
TICK_SIZE = 12


def fy(py):
    return (H - MB - py) / PH


def fx(px):
    return (px - ML) / PW


def xy(pairs):
    xs = [START + pd.Timedelta(days=d) for d, v in pairs]
    ys = [v for d, v in pairs]
    return xs, ys


# per panel: left (title, colour, range, dtick, fmt, title_px, series), right (...) or None
panels = [
    dict(left=("HNO<sub>3</sub><br>(ppbv)", RED, [-1.15, 20.6], 5, None, 33, [(hno3, RED)]), right=None),
    dict(left=("Wind speed<br>(m s<sup>-1</sup>)", BLACK, [-4, 26], 10, None, 120, [(wind, BLACK)]),
         right=("Rain<br>(mm)", RED, [-0.04, 0.26], 0.1, ".1f", 122, [])),
    dict(left=("Temp<br>(°C)", BLUE, [14.9, 36.4], 5, None, 197, [(temp, BLUE)]),
         right=("RH<br>(%)", RED, [19.6, 105.6], 20, None, 184, [(rh, RED)])),
    dict(left=("PM<sub>2.5</sub><br>(μg m<sup>-3</sup>)", BLUE, [-6, 123.8], 31, None, 268, [(pm25, BLUE)]),
         right=("NO<sub>3</sub><sup>−</sup><br>(μg m<sup>-3</sup>)", RED, [-1.6, 49.9], 10, None, 258, [(no3, RED)])),
    dict(left=("O<sub>3</sub><br>(ppbv)", BLUE, [-21, 178], 50, None, 338, [(o3, BLUE)]),
         right=("CO<br>(ppmv)", RED, [0.12, 1.2], 0.5, ".1f", 327, [(co, RED)])),
    dict(left=("SO<sub>2</sub><br>(ppbv)", BLUE, [-0.42, 6.9], 1.9, ".1f", 400, [(so2, BLUE)]),
         right=("NH<sub>3</sub><br>(ppbv)", RED, [1.3, 22.5], 5, None, 387, [(nh3, RED)])),
    dict(left=("NO<br>(ppbv)", BLUE, [-5.7, 141.5], 30, None, 467, [(no, BLUE)]),
         right=("NO<sub>2</sub><br>(ppbv)", RED, [-5.7, 141.5], 30, None, 455, [(no2, RED)])),
    dict(left=("HONO<br>(ppbv)", BLACK, [-0.4, 5.45], 1.5, ".1f", 539, [(hono, BLACK)]), right=None),
]

fig = go.Figure()
layout = dict(width=W, height=H, margin=dict(l=ML, r=MR, t=MT, b=MB),
              paper_bgcolor="white", plot_bgcolor="white", showlegend=False,
              font=dict(family=FONT, size=13, color=BLACK, weight="bold"))
annotations = []
shapes = []
tickvals = [START + pd.Timedelta(days=d) for d in tick_days]


def yaxis_dict(rng, dtick, color, fmt):
    d = dict(range=rng, tickmode="linear", tick0=0, dtick=dtick, showline=True, linecolor=color,
             linewidth=1.2, ticks="outside", ticklen=4, tickwidth=1, tickcolor=color,
             tickfont=dict(family=FONT, size=TICK_SIZE, color=color, weight="bold"),
             showgrid=False, zeroline=False, fixedrange=True,
             minor=dict(ticks="outside", ticklen=2, tickcolor=color))
    if fmt:
        d["tickformat"] = fmt
    return d


n_panels = len(panels)
for i, p in enumerate(panels):
    k = i + 1
    xname = "xaxis" if k == 1 else f"xaxis{k}"
    yname = "yaxis" if k == 1 else f"yaxis{k}"
    xref = "x" if k == 1 else f"x{k}"
    yref = "y" if k == 1 else f"y{k}"
    dom = [fy(edges_px[i + 1]), fy(edges_px[i])]

    xa = dict(domain=[0, 1], anchor=yref, range=[START, END], type="date",
              tickmode="array", tickvals=tickvals, ticktext=tick_labels,
              showticklabels=(k == n_panels), ticks="inside", ticklen=5, tickcolor=FRAME,
              tickfont=dict(family=FONT, size=15, color=BLACK, weight="bold"),
              showgrid=True, gridcolor="#9a9a9a", griddash="dash", gridwidth=1,
              showline=True, mirror="allticks", linecolor=FRAME, linewidth=1,
              zeroline=False, fixedrange=True)
    if k > 1:
        xa["matches"] = "x"
    layout[xname] = xa

    title, col, rng, dt, fmt, tpx, series = p["left"]
    ya = yaxis_dict(rng, dt, col, fmt)
    ya.update(domain=dom, anchor=xref, side="left")
    layout[yname] = ya
    annotations.append(dict(xref="paper", yref="paper", x=fx(31), y=fy(tpx), text=title,
                            textangle=-90, showarrow=False, xanchor="center", yanchor="middle",
                            font=dict(family=FONT, size=17, color=col, weight="bold")))
    left_traces = []
    for data, c in series:
        xs, ys = xy(data)
        left_traces.append(go.Scatter(x=xs, y=ys, mode="lines", line=dict(color=c, width=2),
                                      xaxis=xref, yaxis=yref, hoverinfo="skip"))

    right_traces = []
    if p["right"] is not None:
        rk = n_panels + k
        rname = f"yaxis{rk}"
        rref = f"y{rk}"
        title, col, rng, dt, fmt, tpx, series = p["right"]
        ra = yaxis_dict(rng, dt, col, fmt)
        ra.update(overlaying=yref, anchor=xref, side="right")
        layout[rname] = ra
        annotations.append(dict(xref="paper", yref="paper", x=fx(1047), y=fy(tpx), text=title,
                                textangle=-90, showarrow=False, xanchor="center", yanchor="middle",
                                font=dict(family=FONT, size=17, color=col, weight="bold")))
        for data, c in series:
            xs, ys = xy(data)
            right_traces.append(go.Scatter(x=xs, y=ys, mode="lines", line=dict(color=c, width=2),
                                           xaxis=xref, yaxis=rref, hoverinfo="skip"))
        if k == 2:
            rx, rv = xy(rain)
            right_traces.append(go.Scatter(
                x=rx, y=rv, mode="markers",
                marker=dict(symbol="circle-open", size=5, color=RED, line=dict(width=1.2, color=RED)),
                error_y=dict(type="data", symmetric=False, array=[0] * len(rv),
                             arrayminus=[v - rng[0] for v in rv], color=RED, thickness=1.5, width=0),
                xaxis=xref, yaxis=rref, hoverinfo="skip"))
    else:
        shapes.append(dict(type="line", xref="paper", yref="paper", x0=1, x1=1, y0=dom[0], y1=dom[1],
                           line=dict(color=FRAME, width=1.2)))

    for t in left_traces + right_traces:
        fig.add_trace(t)

annotations.append(dict(xref="paper", yref="paper", x=fx(588), y=fy(645),
                        text="Local time \u00a0[2018-mm-dd]", showarrow=False,
                        xanchor="center", yanchor="middle",
                        font=dict(family=FONT, size=25, color=BLACK, weight="bold")))
layout["annotations"] = annotations
layout["shapes"] = shapes
fig.update_layout(**layout)
fig.write_html("out.html")
